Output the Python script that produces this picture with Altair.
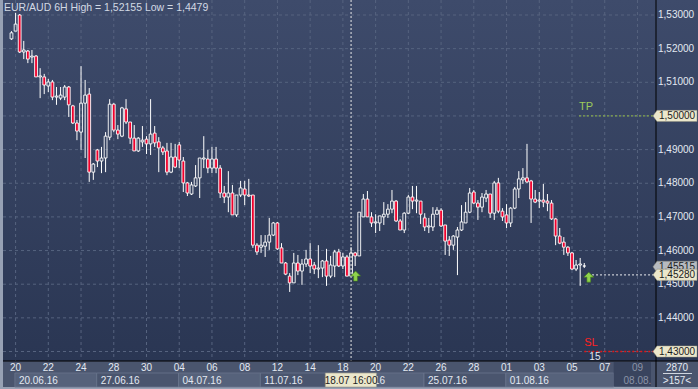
import altair as alt
import pandas as pd

# ---------------- data (6H candles, index 0 = Mon 20.06.16 00:00) ----------------
bar_index = list(range(-1, 140))
opens = [1.5229, 1.5252, 1.5300, 1.5190, 1.5193, 1.5175, 1.5178, 1.5116, 1.5116, 1.5089,
         1.5101, 1.5056, 1.5053, 1.5056, 1.5086, 1.5030, 1.4979, 1.4952, 1.5038, 1.5065,
         1.4833, 1.4899, 1.4866, 1.4875, 1.4937, 1.5035, 1.4958, 1.4940, 1.5021, 1.4982,
         1.4934, 1.4896, 1.4923, 1.4931, 1.4917, 1.4949, 1.4923, 1.4905, 1.4896, 1.4833,
         1.4878, 1.4914, 1.4866, 1.4801, 1.4768, 1.4792, 1.4816, 1.4872, 1.4872, 1.4845,
         1.4872, 1.4845, 1.4771, 1.4759, 1.4771, 1.4706, 1.4765, 1.4783, 1.4765, 1.4765,
         1.4616, 1.4610, 1.4613, 1.4625, 1.4646, 1.4682, 1.4608, 1.4563, 1.4524, 1.4504,
         1.4563, 1.4539, 1.4560, 1.4575, 1.4557, 1.4545, 1.4548, 1.4569, 1.4524, 1.4554,
         1.4596, 1.4554, 1.4581, 1.4524, 1.4593, 1.4584, 1.4700, 1.4753, 1.4700, 1.4682,
         1.4682, 1.4700, 1.4708, 1.4723, 1.4747, 1.4688, 1.4661, 1.4711, 1.4759, 1.4747,
         1.4747, 1.4697, 1.4670, 1.4670, 1.4708, 1.4720, 1.4676, 1.4631, 1.4616, 1.4640,
         1.4661, 1.4682, 1.4714, 1.4774, 1.4741, 1.4729, 1.4756, 1.4768, 1.4711, 1.4801,
         1.4717, 1.4706, 1.4682, 1.4726, 1.4783, 1.4810, 1.4816, 1.4807, 1.4753, 1.4747,
         1.4750, 1.4747, 1.4741, 1.4694, 1.4643, 1.4625, 1.4610, 1.4593, 1.4545, 1.4557,
         1.4554]
highs = [1.5252, 1.5306, 1.5303, 1.5223, 1.5196, 1.5196, 1.5181, 1.5142, 1.5125, 1.5110,
         1.5107, 1.5086, 1.5086, 1.5092, 1.5089, 1.5033, 1.4988, 1.5148, 1.5107, 1.5083,
         1.4860, 1.4902, 1.4908, 1.4952, 1.5050, 1.5038, 1.4973, 1.5027, 1.5050, 1.4982,
         1.4973, 1.4937, 1.4970, 1.4940, 1.5050, 1.4970, 1.4937, 1.4911, 1.4920, 1.4920,
         1.4917, 1.4923, 1.4878, 1.4804, 1.4804, 1.4854, 1.4875, 1.4940, 1.4899, 1.4908,
         1.4908, 1.4854, 1.4792, 1.4836, 1.4795, 1.4765, 1.4807, 1.4807, 1.4813, 1.4765,
         1.4622, 1.4646, 1.4646, 1.4697, 1.4685, 1.4685, 1.4622, 1.4566, 1.4533, 1.4593,
         1.4587, 1.4575, 1.4602, 1.4622, 1.4566, 1.4616, 1.4572, 1.4605, 1.4584, 1.4602,
         1.4605, 1.4593, 1.4587, 1.4610, 1.4596, 1.4714, 1.4768, 1.4777, 1.4714, 1.4708,
         1.4703, 1.4744, 1.4738, 1.4780, 1.4750, 1.4694, 1.4714, 1.4765, 1.4792, 1.4792,
         1.4747, 1.4711, 1.4697, 1.4729, 1.4729, 1.4726, 1.4676, 1.4643, 1.4646, 1.4670,
         1.4735, 1.4744, 1.4786, 1.4780, 1.4750, 1.4771, 1.4780, 1.4768, 1.4807, 1.4816,
         1.4726, 1.4738, 1.4729, 1.4789, 1.4836, 1.4845, 1.4917, 1.4810, 1.4780, 1.4774,
         1.4798, 1.4768, 1.4750, 1.4697, 1.4667, 1.4640, 1.4613, 1.4596, 1.4572, 1.4578,
         1.4563]
lows = [1.5226, 1.5252, 1.5187, 1.5169, 1.5157, 1.5157, 1.5116, 1.5053, 1.5065, 1.5071,
        1.5047, 1.5033, 1.5047, 1.5047, 1.4997, 1.4976, 1.4928, 1.4899, 1.4875, 1.4804,
        1.4810, 1.4848, 1.4830, 1.4833, 1.4928, 1.4952, 1.4931, 1.4937, 1.4976, 1.4917,
        1.4896, 1.4893, 1.4908, 1.4887, 1.4884, 1.4908, 1.4833, 1.4884, 1.4824, 1.4830,
        1.4845, 1.4845, 1.4774, 1.4762, 1.4765, 1.4789, 1.4756, 1.4845, 1.4830, 1.4830,
        1.4830, 1.4756, 1.4741, 1.4714, 1.4706, 1.4700, 1.4759, 1.4735, 1.4759, 1.4608,
        1.4587, 1.4593, 1.4581, 1.4602, 1.4643, 1.4602, 1.4563, 1.4527, 1.4477, 1.4504,
        1.4527, 1.4498, 1.4551, 1.4533, 1.4530, 1.4518, 1.4521, 1.4495, 1.4518, 1.4521,
        1.4551, 1.4545, 1.4524, 1.4524, 1.4554, 1.4584, 1.4700, 1.4700, 1.4670, 1.4652,
        1.4658, 1.4676, 1.4697, 1.4711, 1.4685, 1.4661, 1.4652, 1.4708, 1.4723, 1.4711,
        1.4679, 1.4658, 1.4652, 1.4658, 1.4706, 1.4670, 1.4587, 1.4584, 1.4602, 1.4527,
        1.4658, 1.4682, 1.4711, 1.4738, 1.4691, 1.4714, 1.4744, 1.4697, 1.4691, 1.4711,
        1.4688, 1.4667, 1.4670, 1.4723, 1.4756, 1.4798, 1.4801, 1.4682, 1.4741, 1.4726,
        1.4729, 1.4717, 1.4691, 1.4616, 1.4619, 1.4587, 1.4584, 1.4542, 1.4539, 1.4495,
        1.4548]
closes = [1.5247, 1.5273, 1.5190, 1.5196, 1.5169, 1.5178, 1.5116, 1.5119, 1.5092, 1.5101,
          1.5056, 1.5059, 1.5062, 1.5086, 1.5033, 1.4979, 1.4955, 1.5038, 1.5062, 1.4833,
          1.4857, 1.4866, 1.4875, 1.4940, 1.5035, 1.4958, 1.4946, 1.5024, 1.4982, 1.4934,
          1.4896, 1.4934, 1.4928, 1.4917, 1.4946, 1.4920, 1.4905, 1.4893, 1.4833, 1.4878,
          1.4848, 1.4869, 1.4801, 1.4771, 1.4795, 1.4816, 1.4875, 1.4875, 1.4845, 1.4872,
          1.4845, 1.4771, 1.4759, 1.4771, 1.4706, 1.4765, 1.4786, 1.4765, 1.4762, 1.4616,
          1.4596, 1.4616, 1.4625, 1.4646, 1.4682, 1.4605, 1.4563, 1.4530, 1.4504, 1.4563,
          1.4539, 1.4560, 1.4575, 1.4554, 1.4545, 1.4548, 1.4569, 1.4524, 1.4557, 1.4596,
          1.4554, 1.4581, 1.4524, 1.4593, 1.4584, 1.4714, 1.4753, 1.4700, 1.4682, 1.4685,
          1.4703, 1.4708, 1.4723, 1.4747, 1.4688, 1.4661, 1.4711, 1.4759, 1.4747, 1.4750,
          1.4708, 1.4670, 1.4673, 1.4708, 1.4720, 1.4673, 1.4628, 1.4616, 1.4643, 1.4661,
          1.4685, 1.4714, 1.4771, 1.4741, 1.4729, 1.4759, 1.4768, 1.4711, 1.4801, 1.4717,
          1.4700, 1.4682, 1.4726, 1.4783, 1.4813, 1.4816, 1.4804, 1.4753, 1.4744, 1.4750,
          1.4744, 1.4741, 1.4694, 1.4643, 1.4622, 1.4610, 1.4593, 1.4545, 1.4557, 1.4560,
          1.4554]

day_tick_index = [0, 8, 16, 24, 32, 40, 48, 56, 64, 72, 80, 88, 96, 104, 112, 120, 128, 136, 144, 152]
day_labels = ["20", "22", "24", "28", "30", "04", "06", "08", "12", "14",
              "18", "20", "22", "26", "28", "01", "03", "05", "07", "09"]
week_start_index = [0, 20, 40, 60, 80, 100, 120]
week_labels = ["20.06.16", "27.06.16", "04.07.16", "11.07.16", "18.07.16", "25.07.16", "01.08.16"]
price_ticks = [1.43, 1.44, 1.45, 1.46, 1.47, 1.48, 1.49, 1.50, 1.51, 1.52, 1.53]

tag_prices = [1.50, 1.45515, 1.4528, 1.43]
tag_kinds = ["level", "bid", "level", "level"]
level_names = ["TP", "SL", "price"]
level_prices = [1.50, 1.43, 1.4528]
level_start = [137.7, 139.0, 140.9]
signal_index = [83.1, 140.1]
signal_price = [1.4524, 1.4521]
cursor_index = [82.0]
cursor_label = "18.07 16:00"
title_text = "EUR/AUD 6H High = 1,52155 Low = 1,4479"
info_top, info_bottom = "2870", ">157<"
sl_count = "15"
future_start = 146.2

# ---------------- layout ----------------
W, H = 653, 361
XD = [-1.853, 155.31]
YD = [1.427177, 1.534458]
XS = alt.Scale(domain=XD, nice=False, zero=False)
YS = alt.Scale(domain=YD, nice=False, zero=False)
FONT = "Liberation Sans"
LABEL = "#e3e9f2"

df = pd.DataFrame({"i": bar_index, "o": opens, "h": highs, "l": lows, "c": closes})
df["top"] = df[["o", "c"]].max(axis=1)
df["bot"] = df[["o", "c"]].min(axis=1)
df["bull"] = df["c"] >= df["o"]

one = pd.DataFrame({"a": [0]})

bg = alt.Chart(one).mark_rect(
    color=alt.LinearGradient(gradient="linear",
                             stops=[alt.GradientStop(color="#3e4b6b", offset=0),
                                    alt.GradientStop(color="#2a3653", offset=1)],
                             x1=0, x2=0, y1=0, y2=1)
).encode(x=alt.value(0), x2=alt.value(W + 42), y=alt.value(0), y2=alt.value(H))

bottom_panel = alt.Chart(one).mark_rect(color="#4a556e").encode(
    x=alt.value(0), x2=alt.value(W + 42), y=alt.value(H), y2=alt.value(H + 26))

wk = pd.DataFrame({"s": [w - 0.17 for w in week_start_index],
                   "e": [w + 19.83 for w in week_start_index[:-1]] + [future_start],
                   "lab": week_labels,
                   "alt": [k % 2 == 0 for k in range(len(week_labels))]})
week_boxes = alt.Chart(wk).mark_rect(stroke="#6a758d", strokeWidth=0.8).encode(
    x=alt.X("s:Q", scale=XS, axis=None), x2="e:Q",
    y=alt.value(H + 12), y2=alt.value(H + 26),
    fill=alt.condition("datum.alt", alt.value("#56627b"), alt.value("#4a556e")))
week_text = alt.Chart(wk).mark_text(align="left", baseline="middle", fontSize=10, color=LABEL, dx=4).encode(
    x=alt.X("s:Q", scale=XS, axis=None), y=alt.value(H + 19.5), text="lab:N")

fut = pd.DataFrame({"s": [future_start], "e": [XD[1]], "lab": ["08.08."], "t": [148.6]})
future_zone = alt.Chart(fut).mark_rect(color="#39445e").encode(
    x=alt.X("s:Q", scale=XS, axis=None), x2="e:Q", y=alt.value(H + 1), y2=alt.value(H + 25))
future_text = alt.Chart(fut).mark_text(align="left", baseline="middle", fontSize=10, color="#8a93a7").encode(
    x=alt.X("t:Q", scale=XS, axis=None), y=alt.value(H + 19.5), text="lab:N")

gx = pd.DataFrame({"i": day_tick_index, "lab": day_labels})
gx["col"] = [("#8a93a7" if i > 148 else LABEL) for i in day_tick_index]
grid_x = alt.Chart(gx).mark_rule(color="#56637f", strokeDash=[3, 3], strokeWidth=1).encode(
    x=alt.X("i:Q", scale=XS, axis=None), y=alt.value(0), y2=alt.value(H))
day_text = alt.Chart(gx).mark_text(align="center", baseline="middle", fontSize=10).encode(
    x=alt.X("i:Q", scale=XS, axis=None), y=alt.value(H + 7), text="lab:N",
    color=alt.Color("col:N", scale=None))

gy = pd.DataFrame({"p": price_ticks})
grid_y = alt.Chart(gy).mark_rule(color="#56637f", strokeDash=[3, 3], strokeWidth=1).encode(
    y=alt.Y("p:Q", scale=YS, axis=None), x=alt.value(0), x2=alt.value(W))
gy_lab = gy[~gy["p"].isin(tag_prices)].copy()
gy_lab["t"] = [("%.5f" % p).replace(".", ",") for p in gy_lab["p"]]
price_text = alt.Chart(gy_lab).mark_text(align="left", baseline="middle", fontSize=10, color=LABEL).encode(
    y=alt.Y("p:Q", scale=YS, axis=None), x=alt.value(W + 2), text="t:N")

lv = pd.DataFrame({"name": level_names, "p": level_prices, "s": level_start,
                   "col": ["#86aa4c", "#e01818", "#c8ccd4"]})
level_lines = alt.Chart(lv).mark_rule(strokeDash=[2, 2], strokeWidth=1.3).encode(
    x=alt.X("s:Q", scale=XS, axis=None), x2=alt.value(W),
    y=alt.Y("p:Q", scale=YS, axis=None), color=alt.Color("col:N", scale=None))
lv_txt = lv[lv["name"] != "price"].copy()
lv_txt["col"] = ["#9ccc5a", "#ff2222"]
level_text = alt.Chart(lv_txt).mark_text(align="left", baseline="middle", fontSize=11, dy=-9).encode(
    x=alt.X("s:Q", scale=XS, axis=None), y=alt.Y("p:Q", scale=YS, axis=None),
    text="name:N", color=alt.Color("col:N", scale=None))
sl_df = pd.DataFrame({"s": [141.6], "p": [1.43], "t": [sl_count]})
sl_count_text = alt.Chart(sl_df).mark_text(align="center", baseline="middle", fontSize=10, color=LABEL, dy=5).encode(
    x=alt.X("s:Q", scale=XS, axis=None), y=alt.Y("p:Q", scale=YS, axis=None), text="t:N")

base = alt.Chart(df)
wick_up = base.mark_rule(color="#ffffff", strokeWidth=1).encode(
    x=alt.X("i:Q", scale=XS, axis=None), y=alt.Y("h:Q", scale=YS, axis=None), y2="top:Q")
wick_dn = base.mark_rule(color="#ffffff", strokeWidth=1).encode(
    x=alt.X("i:Q", scale=XS, axis=None), y=alt.Y("bot:Q", scale=YS, axis=None), y2="l:Q")
bodies = base.mark_bar(size=2.8, stroke="#ffffff", strokeWidth=0.9).encode(
    x=alt.X("i:Q", scale=XS, axis=None),
    y=alt.Y("o:Q", scale=YS, axis=None), y2="c:Q",
    fill=alt.condition("datum.bull", alt.value("transparent"), alt.value("#f0002c")))

cur = pd.DataFrame({"i": cursor_index, "lab": [cursor_label],
                    "s": [cursor_index[0] - 6.3], "e": [cursor_index[0] + 6.2]})
cursor_line = alt.Chart(cur).mark_rule(color="#e8e8e8", strokeDash=[2, 2], strokeWidth=1).encode(
    x=alt.X("i:Q", scale=XS, axis=None), y=alt.value(0), y2=alt.value(H))
cursor_box = alt.Chart(cur).mark_rect(color="#ebe7cb", stroke="#9b9886", strokeWidth=0.6).encode(
    x=alt.X("s:Q", scale=XS, axis=None), x2="e:Q", y=alt.value(H + 12), y2=alt.value(H + 26))
cursor_text = alt.Chart(cur).mark_text(align="center", baseline="middle", fontSize=10, color="#1e1e1e").encode(
    x=alt.X("i:Q", scale=XS, axis=None), y=alt.value(H + 19.5), text="lab:N")

sep_h = alt.Chart(one).mark_rule(color="#000000", strokeWidth=1).encode(
    x=alt.value(0), x2=alt.value(W + 42), y=alt.value(H))
sep_v = alt.Chart(one).mark_rule(color="#000000", strokeWidth=1).encode(
    x=alt.value(W), y=alt.value(0), y2=alt.value(H + 26))

TAG = "M-1.2,0 L-1,-0.28 L1,-0.28 L1,0.28 L-1,0.28 Z"
tg = pd.DataFrame({"p": tag_prices, "kind": tag_kinds,
                   "t": [("%.5f" % p).replace(".", ",") for p in tag_prices]})
tg["fill"] = ["#ebe7cb" if k == "level" else "#b6bac0" for k in tag_kinds]
tag_layers = []
for k in range(len(tg)):
    row = tg.iloc[[k]]
    tag_layers.append(alt.Chart(row).mark_point(shape=TAG, size=1600, filled=True, opacity=1,
                                                stroke="#8c8a7c", strokeWidth=0.5).encode(
        x=alt.value(W + 21), y=alt.Y("p:Q", scale=YS, axis=None),
        fill=alt.Color("fill:N", scale=None)))
    tag_layers.append(alt.Chart(row).mark_text(align="left", baseline="middle", fontSize=10,
                                               color="#1c1c1c", dy=0.5).encode(
        x=alt.value(W + 3), y=alt.Y("p:Q", scale=YS, axis=None), text="t:N"))

ARROW = "M0,-1 L1,0 L0.38,0 L0.38,1 L-0.38,1 L-0.38,0 L-1,0 Z"
sg = pd.DataFrame({"i": signal_index, "p": signal_price})
signals = alt.Chart(sg).mark_point(shape=ARROW, size=100, filled=True, opacity=1,
                                   fill="#8fd24c", stroke="#3f7a1a", strokeWidth=0.6).encode(
    x=alt.X("i:Q", scale=XS, axis=None), y=alt.Y("p:Q", scale=YS, axis=None))

title = alt.Chart(one).mark_text(align="left", baseline="middle", fontSize=10.5, color="#d2d9e4").encode(
    x=alt.value(1), y=alt.value(8), text=alt.value(title_text))

info1 = alt.Chart(one).mark_text(align="center", baseline="middle", fontSize=10, color=LABEL).encode(
    x=alt.value(W + 21), y=alt.value(H + 6.5), text=alt.value(info_top))
info_line = alt.Chart(one).mark_rule(color="#cfd6e0", strokeWidth=1).encode(
    x=alt.value(W + 7), x2=alt.value(W + 36), y=alt.value(H + 12.5))
info2 = alt.Chart(one).mark_text(align="center", baseline="middle", fontSize=10, color=LABEL).encode(
    x=alt.value(W + 21), y=alt.value(H + 20), text=alt.value(info_bottom))

chart = alt.layer(
    bg, bottom_panel, week_boxes, future_zone, grid_x, grid_y, level_lines,
    wick_up, wick_dn, bodies, cursor_line, sep_h, sep_v, level_text, sl_count_text,
    price_text, day_text,
    *tag_layers, signals, week_text, future_text, cursor_box, cursor_text,
    title, info1, info_line, info2
).properties(
    width=W, height=H, autosize="none",
    padding={"left": 3, "top": 0, "right": 42, "bottom": 28},
    background="#97a1b4"
).configure_view(stroke=None).configure_text(font=FONT)

chart.save("out.html", embed_options={"renderer": "svg", "actions": False})
